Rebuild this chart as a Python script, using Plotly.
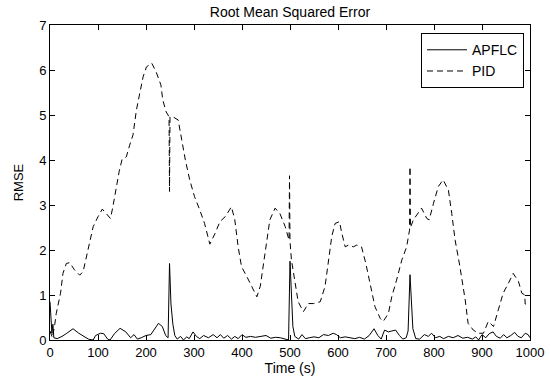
import plotly.graph_objects as go

# APFLC RMSE (time in s, value)
apflc_t = [0, 2, 4, 6, 8, 15, 25, 35, 48, 60, 70, 80, 90, 95, 105, 112, 120, 125, 135, 146, 158, 168, 175, 182, 190,
           200, 210, 218, 226, 234, 241, 246, 249, 252, 256, 260, 265, 272, 278, 285, 290, 298, 305, 312, 320, 330,
           340, 348, 355, 362, 370, 378, 385, 392, 400, 408, 418, 428, 440, 450, 460, 470, 480, 490, 497, 500, 503,
           506, 510, 518, 525, 532, 540, 550, 560, 570, 580, 590, 597, 605, 615, 625, 635, 645, 655, 665, 675, 683,
           690, 697, 705, 712, 720, 728, 735, 742, 746, 750, 753, 756, 762, 770, 780, 788, 795, 803, 812, 820, 830,
           840, 850, 860, 870, 880, 887, 893, 900, 908, 915, 923, 930, 938, 945, 952, 960, 968, 975, 982, 990, 996, 1000]
apflc_v = [0.85, 0.45, 0.15, 0.35, 0.05, 0.03, 0.08, 0.15, 0.25, 0.15, 0.08, 0.02, 0.0, 0.1, 0.15, 0.14, 0.02, 0.0,
           0.15, 0.26, 0.18, 0.05, 0.12, 0.02, 0.05, 0.1, 0.12, 0.25, 0.37, 0.3, 0.1, 0.05, 1.70, 0.8, 0.35, 0.1,
           0.02, 0.08, 0.0, 0.07, 0.03, 0.18, 0.08, 0.03, 0.1, 0.05, 0.12, 0.05, 0.12, 0.04, 0.1, 0.02, 0.08, 0.03,
           0.12, 0.06, 0.08, 0.06, 0.08, 0.1, 0.04, 0.06, 0.05, 0.02, 0.0, 1.75, 0.9, 0.3, 0.08, 0.02, 0.12, 0.03,
           0.05, 0.07, 0.05, 0.12, 0.1, 0.15, 0.12, 0.05, 0.07, 0.05, 0.03, 0.06, 0.02, 0.1, 0.25, 0.1, 0.02, 0.22,
           0.18, 0.2, 0.22, 0.1, 0.02, 0.05, 0.2, 1.45, 0.8, 0.25, 0.03, 0.02, 0.12, 0.08, 0.15, 0.05, 0.08, 0.03,
           0.08, 0.05, 0.1, 0.04, 0.06, 0.02, 0.07, 0.0, 0.12, 0.05, 0.14, 0.18, 0.08, 0.04, 0.12, 0.05, 0.1, 0.17,
           0.08, 0.05, 0.15, 0.12, 0.05]

# PID RMSE (time in s, value)
pid_t = [0, 5, 10, 13, 22, 27, 34, 41, 51, 62, 69, 76, 83, 90, 100, 109, 117, 126, 131, 138, 144, 150, 159, 166, 173,
         180, 187, 194, 201, 212, 221, 231, 235, 242, 248, 249, 250, 256, 267, 274, 282, 291, 301, 312, 322, 333, 344,
         354, 365, 378, 385, 392, 399, 410, 424, 431, 438, 444, 451, 458, 469, 479, 490, 498, 499, 500, 503, 510, 517,
         528, 538, 549, 563, 573, 580, 587, 594, 603, 608, 615, 622, 632, 639, 649, 658, 667, 677, 688, 694, 705, 712,
         722, 733, 743, 749, 750, 751, 757, 767, 774, 785, 790, 799, 809, 819, 830, 837, 844, 854, 865, 871, 882, 892,
         903, 913, 924, 934, 944, 955, 965, 976, 983, 989, 990, 1000]
pid_v = [0.2, 0.05, 0.35, 0.59, 1.04, 1.48, 1.70, 1.72, 1.56, 1.44, 1.52, 1.85, 2.22, 2.52, 2.74, 2.91, 2.81, 2.70,
         2.96, 3.41, 3.74, 4.01, 4.07, 4.33, 4.56, 5.11, 5.52, 5.85, 6.07, 6.15, 5.96, 5.67, 5.33, 5.07, 4.96, 3.30,
         4.96, 4.96, 4.89, 4.44, 4.0, 3.56, 3.19, 2.89, 2.59, 2.13, 2.37, 2.63, 2.74, 2.96, 2.67, 2.07, 1.63, 1.41,
         1.11, 0.96, 1.19, 1.63, 2.22, 2.67, 2.93, 2.81, 2.52, 2.22, 3.65, 2.2, 1.78, 1.33, 0.85, 0.63, 0.81, 0.81,
         0.85, 1.19, 1.78, 2.30, 2.59, 2.63, 2.37, 2.07, 2.11, 2.07, 2.11, 2.07, 1.70, 1.26, 0.74, 0.48, 0.41, 0.59,
         0.96, 1.33, 1.78, 2.07, 2.44, 3.85, 2.5, 2.67, 2.81, 2.93, 2.70, 2.67, 3.04, 3.41, 3.56, 3.33, 2.81, 2.22,
         1.63, 0.89, 0.37, 0.22, 0.15, 0.15, 0.41, 0.30, 0.67, 1.04, 1.26, 1.48, 1.30, 1.04, 1.0, 0.8, 0.8]

x_ticks = list(range(0, 1001, 100))
y_ticks = list(range(0, 8))

FONT = "Liberation Sans, Arial, sans-serif"
W, H = 551, 379

fig = go.Figure()
fig.add_trace(go.Scatter(x=apflc_t, y=apflc_v, mode="lines", name="APFLC",
                         line=dict(color="black", width=1)))
fig.add_trace(go.Scatter(x=pid_t, y=pid_v, mode="lines", name="PID",
                         line=dict(color="black", width=1, dash="6px,4px")))

axis_common = dict(showline=True, linecolor="black", linewidth=1, mirror="ticks",
                   ticks="inside", ticklen=5, tickcolor="black", showgrid=False, zeroline=False,
                   automargin=False,
                   tickfont=dict(family=FONT, size=13, color="black"))

fig.update_layout(
    width=W, height=H,
    margin=dict(l=50, r=21, t=25, b=39),
    paper_bgcolor="white", plot_bgcolor="white",
    font=dict(family=FONT, size=13, color="black"),
    title=dict(text="Root Mean Squared Error", x=0.5, xref="paper", xanchor="center",
               yref="container", y=1 - 12 / H, yanchor="middle",
               font=dict(family=FONT, size=14, color="black")),
    xaxis=dict(range=[0, 1000], tickvals=x_ticks, title=dict(text="Time (s)", standoff=2,
               font=dict(family=FONT, size=14)), **axis_common),
    yaxis=dict(range=[0, 7], tickvals=y_ticks, title=dict(text="RMSE", standoff=12,
               font=dict(family=FONT, size=13)), **axis_common),
    legend=dict(x=0.9875, xanchor="right", y=0.974, yanchor="top", bgcolor="white",
                bordercolor="black", borderwidth=1, font=dict(family=FONT, size=14),
                tracegroupgap=0, itemwidth=40),
    showlegend=True,
)

fig.write_html("out.html", config={"displayModeBar": False},
               post_script="document.body.style.margin='0';")
